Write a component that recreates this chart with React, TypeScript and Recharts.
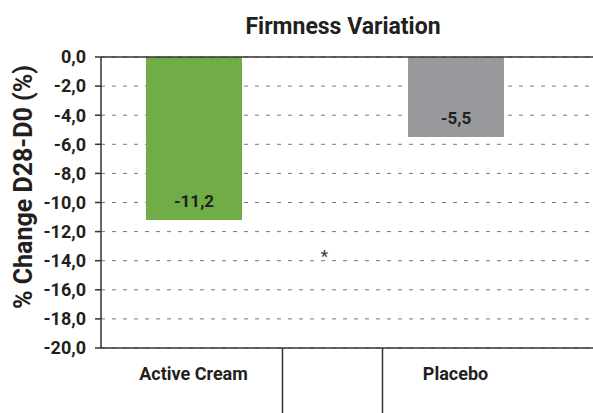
import React from 'react';
import { ComposedChart, Bar, Cell, Scatter, XAxis, YAxis, CartesianGrid, ReferenceLine, LabelList } from 'recharts';

const categories = ['Active Cream', '', 'Placebo'];
const changes = [-11.2, null, -5.5];
const barColors = ['#70ad47', '#ffffff', '#98999d'];
const significance = [null, -13.5, null];
const yTicks = [0, -2, -4, -6, -8, -10, -12, -14, -16, -18, -20];

const data = categories.map((name, i) => ({ name, change: changes[i], star: significance[i] }));

const FONT = 'Roboto, sans-serif';
const INK = '#231f20';

const fmt = (v: number) => v.toFixed(1).replace('.', ',');

const ValueLabel = (props: any) => {
  const { x, y, width, height, value } = props;
  if (value == null) return null;
  const bottom = Math.max(y, y + height);
  return (
    <text x={x + width / 2} y={bottom - 13} textAnchor="middle" fontFamily={FONT} fontWeight={700} fontSize={17} fill={INK}>
      {fmt(value)}
    </text>
  );
};

const CategoryTick = (props: any) => {
  const { x, y, payload, index } = props;
  return (
    <g>
      <text x={x} y={y + 32} textAnchor="middle" fontFamily={FONT} fontWeight={700} fontSize={18} fill={INK}>
        {payload.value}
      </text>
      {index === 1 && (
        <>
          <line x1={x - 42} x2={x - 42} y1={y} y2={y + 70} stroke="#333" strokeWidth={1.5} />
          <line x1={x + 58} x2={x + 58} y1={y} y2={y + 70} stroke="#333" strokeWidth={1.5} />
        </>
      )}
    </g>
  );
};

const StarShape = (props: any) => {
  const { cx, cy } = props;
  if (cx == null || cy == null) return null;
  return (
    <text x={cx} y={cy + 9} textAnchor="middle" fontFamily={FONT} fontWeight={700} fontSize={16} fill="#444">*</text>
  );
};

const YLabel = () => (
  <text transform="rotate(-90, 32, 187)" x={32} y={187} textAnchor="middle"
    fontFamily={FONT} fontWeight={700} fontSize={25} fill={INK}>
    % Change D28-D0 (%)
  </text>
);

export default function App() {
  return (
    <div style={{ position: 'absolute', left: 0, top: 0, width: 593, height: 413, background: '#fff' }}>
      <div style={{ position: 'absolute', left: 0, top: 13, width: 686, textAlign: 'center', fontFamily: FONT, fontWeight: 700, fontSize: 23, color: INK }}>
        Firmness Variation
      </div>
      <ComposedChart width={593} height={413} data={data} margin={{ top: 57, right: 0, bottom: 0, left: 0 }}>
        <CartesianGrid vertical={false} stroke="#777" strokeDasharray="4 7" />
        <XAxis dataKey="name" height={65} padding={{ left: 27, right: 72 }} tickSize={0} tickMargin={0}
          axisLine={{ stroke: '#333', strokeWidth: 1.5 }} tickLine={false} tick={<CategoryTick />} interval={0} />
        <YAxis width={101} domain={[-20, 0]} ticks={yTicks} tickFormatter={fmt} tickSize={6} tickMargin={9}
          axisLine={{ stroke: '#333', strokeWidth: 1.5 }} tickLine={{ stroke: '#333', strokeWidth: 1.5 }}
          tick={{ fontFamily: FONT, fontWeight: 700, fontSize: 18, fill: INK }} label={<YLabel />} />
        <Bar dataKey="change" barSize={96} isAnimationActive={false}>
          {data.map((d, i) => <Cell key={i} fill={barColors[i]} />)}
          <LabelList dataKey="change" content={<ValueLabel />} />
        </Bar>
        <Scatter dataKey="star" shape={<StarShape />} isAnimationActive={false} />
        <ReferenceLine y={0} stroke="#333" strokeWidth={1.5} />
      </ComposedChart>
    </div>
  );
}
